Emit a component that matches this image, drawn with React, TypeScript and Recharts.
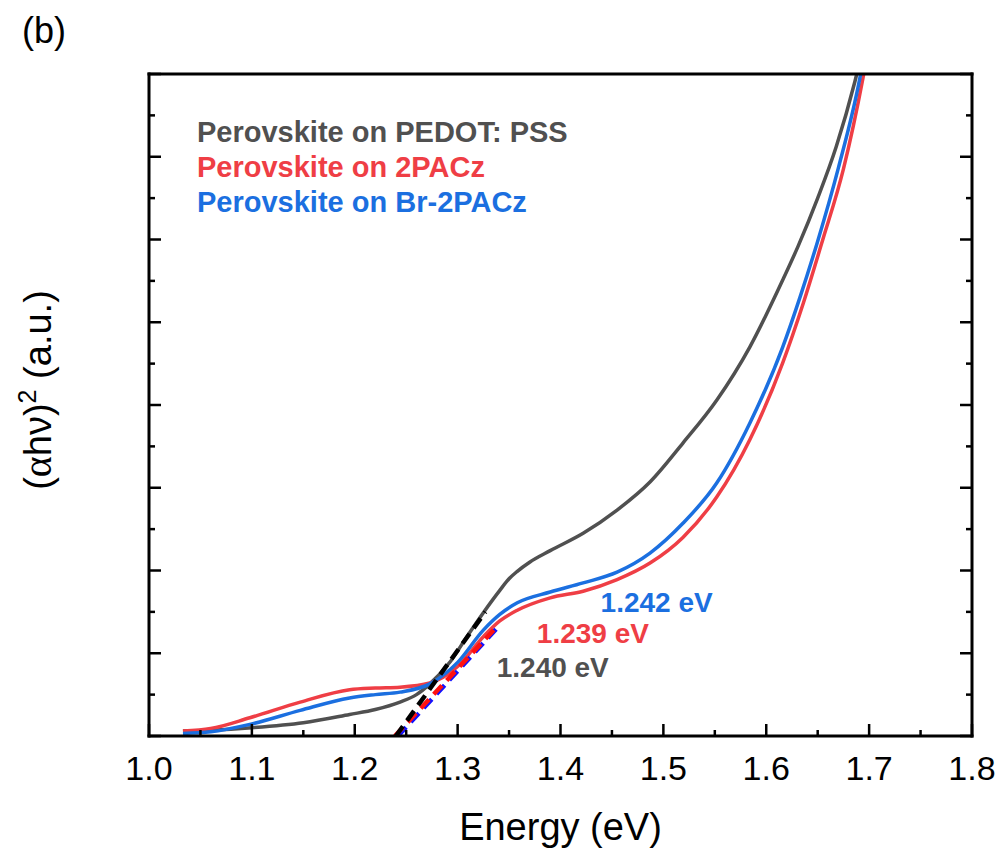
import { LineChart, Line, XAxis, YAxis, Legend, ReferenceDot, Label } from 'recharts'

const FONT = '"Liberation Sans", Arial, Helvetica, sans-serif'

// Energy (eV) and (αhν)², y in arbitrary units (0..8 frame)
const pedotE = [1.033, 1.06, 1.1, 1.15, 1.195, 1.22, 1.244, 1.26, 1.273, 1.293, 1.309, 1.325, 1.341, 1.35, 1.358, 1.37, 1.39, 1.422, 1.455, 1.487, 1.519, 1.552, 1.584, 1.616, 1.631, 1.65, 1.668, 1.686, 1.69]
const pedotV = [0.06, 0.07, 0.1, 0.16, 0.26, 0.32, 0.41, 0.5, 0.63, 0.9, 1.2, 1.49, 1.76, 1.9, 1.99, 2.1, 2.24, 2.45, 2.73, 3.07, 3.54, 4.06, 4.7, 5.51, 5.92, 6.5, 7.12, 7.9, 8.1]

const pacE = [1.033, 1.06, 1.098, 1.147, 1.195, 1.22, 1.244, 1.273, 1.3, 1.325, 1.341, 1.358, 1.39, 1.422, 1.455, 1.487, 1.519, 1.552, 1.584, 1.616, 1.636, 1.655, 1.675, 1.694, 1.697]
const pacV = [0.06, 0.09, 0.22, 0.41, 0.56, 0.58, 0.59, 0.64, 0.84, 1.2, 1.39, 1.52, 1.67, 1.75, 1.89, 2.09, 2.4, 2.89, 3.58, 4.51, 5.23, 6.0, 6.85, 7.95, 8.15]

const brPacE = [1.033, 1.06, 1.098, 1.147, 1.195, 1.22, 1.244, 1.273, 1.3, 1.325, 1.341, 1.358, 1.39, 1.422, 1.455, 1.487, 1.519, 1.552, 1.584, 1.616, 1.633, 1.65, 1.67, 1.691, 1.694]
const brPacV = [0.03, 0.05, 0.14, 0.31, 0.46, 0.5, 0.53, 0.63, 0.89, 1.28, 1.47, 1.61, 1.74, 1.85, 1.98, 2.21, 2.57, 3.06, 3.78, 4.7, 5.31, 5.98, 6.86, 7.95, 8.15]

// Tauc fit lines (start = band gap on the x axis)
const pedotFitE = [1.24, 1.327]
const pedotFitV = [0, 1.5]
const pacFitE = [1.239, 1.338]
const pacFitV = [0, 1.32]
const brPacFitE = [1.242, 1.338]
const brPacFitV = [0, 1.3]

const seriesNames = ['Perovskite on PEDOT: PSS', 'Perovskite on 2PACz', 'Perovskite on Br-2PACz']
const seriesColors = ['#505050', '#ef3e45', '#1b6fe0']
const fitColors = ['#000000', '#ff1010', '#1010ff']

const gapLabels = ['1.240 eV', '1.239 eV', '1.242 eV']
const gapLabelE = [1.338, 1.377, 1.439]
const gapLabelV = [0.71, 1.12, 1.5]

const xTicks = [1.0, 1.05, 1.1, 1.15, 1.2, 1.25, 1.3, 1.35, 1.4, 1.45, 1.5, 1.55, 1.6, 1.65, 1.7, 1.75, 1.8]
const yTicks = [0, 0.5, 1, 1.5, 2, 2.5, 3, 3.5, 4, 4.5, 5, 5.5, 6, 6.5, 7, 7.5, 8]

const toPoints = (e: number[], v: number[]) => e.map((x, i) => ({ e: x, v: v[i] }))

const curves = [toPoints(pedotE, pedotV), toPoints(pacE, pacV), toPoints(brPacE, brPacV)]
const fits = [toPoints(pedotFitE, pedotFitV), toPoints(pacFitE, pacFitV), toPoints(brPacFitE, brPacFitV)]

const isMajor = (v: number, step: number) => Math.abs(v / step - Math.round(v / step)) < 1e-6

// ticks point into the plot; major ones longer
const BottomTick = ({ x, y, payload }: any) => {
  const major = isMajor(payload.value, 0.1)
  return (
    <g>
      <line x1={x} y1={y} x2={x} y2={y - (major ? 12 : 6)} stroke="#000" strokeWidth={2.5} />
      {major && (
        <text x={x} y={y + 44} textAnchor="middle" fontSize={34} fontFamily={FONT} fill="#000">
          {payload.value.toFixed(1)}
        </text>
      )}
    </g>
  )
}

const LeftTick = ({ x, y, payload }: any) => {
  const len = isMajor(payload.value, 1) ? 12 : 6
  return <line x1={x} y1={y} x2={x + len} y2={y} stroke="#000" strokeWidth={2.5} />
}

const RightTick = ({ x, y, payload }: any) => {
  const len = isMajor(payload.value, 1) ? 12 : 6
  return <line x1={x} y1={y} x2={x - len} y2={y} stroke="#000" strokeWidth={2.5} />
}

const renderXTitle = ({ viewBox }: any) => (
  <text x={viewBox.x + viewBox.width / 2} y={840} textAnchor="middle" fontSize={38} fontFamily={FONT} fill="#000">
    Energy (eV)
  </text>
)

const renderYTitle = () => (
  <text x={51} y={390} transform="rotate(-90, 51, 390)" textAnchor="middle" fontSize={38} fontFamily={FONT} fill="#000">
    (<tspan fontFamily='"Liberation Serif", "DejaVu Serif", serif' fontSize={40}>α</tspan>hν)
    <tspan dy={-15} fontSize={25}>2</tspan>
    <tspan dy={15}> (a.u.)</tspan>
  </text>
)

// legend is plain coloured text, one line per sample
const renderLegend = () => (
  <div style={{ fontFamily: FONT, fontWeight: 'bold', fontSize: 29, lineHeight: '35px', whiteSpace: 'nowrap' }}>
    {seriesNames.map((name, i) => (
      <div key={name} style={{ color: seriesColors[i] }}>
        {name}
      </div>
    ))}
  </div>
)

const noteLabel = (text: string, color: string) => ({ viewBox }: any) => (
  <text x={viewBox.x} y={viewBox.y} fill={color} fontSize={28} fontWeight="bold" fontFamily={FONT}>
    {text}
  </text>
)

export default function App() {
  const axisLine = { stroke: '#000', strokeWidth: 3, strokeLinecap: 'square' as const }
  return (
    <div style={{ position: 'absolute', left: 0, top: 0, width: 1002, height: 855, background: '#fff' }}>
      <div style={{ position: 'absolute', left: 22, top: 13, fontFamily: FONT, fontSize: 36, lineHeight: '36px' }}>(b)</div>
      <LineChart width={1002} height={855} margin={{ top: 0, right: 0, bottom: 0, left: 0 }}>
        <XAxis
          xAxisId="b"
          type="number"
          dataKey="e"
          domain={[1.0, 1.8]}
          ticks={xTicks}
          interval={0}
          allowDataOverflow
          height={119}
          tickSize={0}
          tickMargin={0}
          tickLine={false}
          tick={<BottomTick />}
          axisLine={axisLine}
        >
          <Label content={renderXTitle} />
        </XAxis>
        <XAxis
          xAxisId="t"
          orientation="top"
          type="number"
          domain={[1.0, 1.8]}
          ticks={xTicks}
          allowDataOverflow
          height={74}
          tick={false}
          tickLine={false}
          axisLine={axisLine}
        />
        <YAxis
          yAxisId="l"
          type="number"
          domain={[0, 8]}
          ticks={yTicks}
          interval={0}
          allowDataOverflow
          width={149}
          tickSize={0}
          tickMargin={0}
          tickLine={false}
          tick={<LeftTick />}
          axisLine={axisLine}
        >
          <Label content={renderYTitle} />
        </YAxis>
        <YAxis
          yAxisId="r"
          orientation="right"
          type="number"
          domain={[0, 8]}
          ticks={yTicks}
          interval={0}
          allowDataOverflow
          width={30}
          tickSize={0}
          tickMargin={0}
          tickLine={false}
          tick={<RightTick />}
          axisLine={axisLine}
        />
        <Legend
          layout="vertical"
          align="center"
          verticalAlign="middle"
          content={renderLegend}
          wrapperStyle={{ left: 197, top: 115, width: 'auto', height: 'auto' }}
        />
        {curves.map((pts, i) => (
          <Line
            key={seriesNames[i]}
            name={seriesNames[i]}
            data={pts}
            dataKey="v"
            xAxisId="b"
            yAxisId="l"
            type="monotone"
            stroke={seriesColors[i]}
            strokeWidth={3.5}
            dot={false}
            activeDot={false}
            isAnimationActive={false}
          />
        ))}
        {[2, 1, 0].map((i) => (
          <Line
            key={'fit-' + i}
            data={fits[i]}
            dataKey="v"
            xAxisId="b"
            yAxisId="l"
            type="linear"
            stroke={fitColors[i]}
            strokeWidth={4.5}
            strokeDasharray="12 7"
            dot={false}
            activeDot={false}
            legendType="none"
            isAnimationActive={false}
          />
        ))}
        {gapLabels.map((text, i) => (
          <ReferenceDot
            key={text}
            xAxisId="b"
            yAxisId="l"
            x={gapLabelE[i]}
            y={gapLabelV[i]}
            r={0}
            fill="none"
            stroke="none"
            label={noteLabel(text, seriesColors[i])}
          />
        ))}
      </LineChart>
    </div>
  )
}
